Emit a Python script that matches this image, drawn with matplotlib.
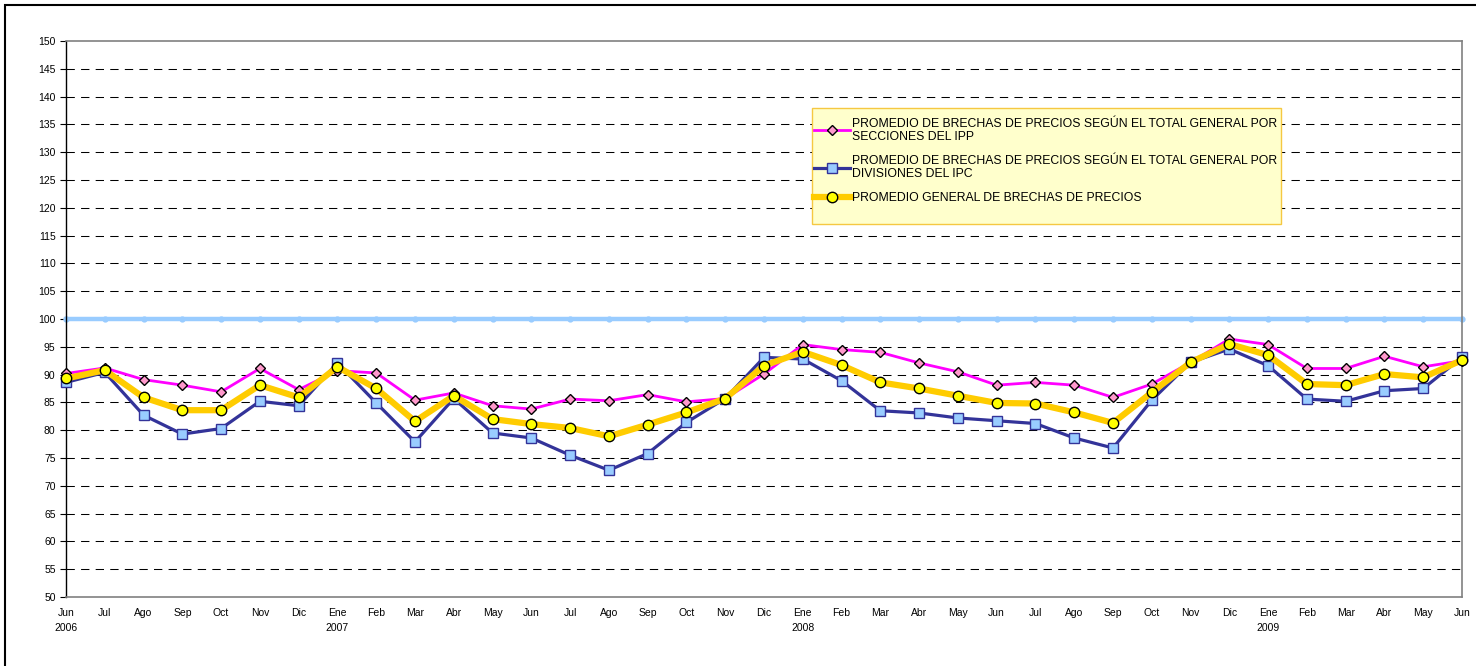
"""
Brechas de precios: IPP, IPC y promedio general, Jun 2006 - Jun 2009.
"""
import matplotlib.pyplot as plt
from matplotlib.patches import Rectangle

plt.rcParams["font.family"] = ["Liberation Sans", "DejaVu Sans"]

meses = [
    "Jun\n2006", "Jul", "Ago", "Sep", "Oct", "Nov", "Dic",
    "Ene\n2007", "Feb", "Mar", "Abr", "May", "Jun", "Jul", "Ago", "Sep", "Oct", "Nov", "Dic",
    "Ene\n2008", "Feb", "Mar", "Abr", "May", "Jun", "Jul", "Ago", "Sep", "Oct", "Nov", "Dic",
    "Ene\n2009", "Feb", "Mar", "Abr", "May", "Jun",
]

ipp = [
    90.2, 91.2, 89.1, 88.1, 86.9, 91.1, 87.3,
    90.7, 90.3, 85.4, 86.7, 84.4, 83.8, 85.6, 85.3, 86.4, 85.1, 85.7, 90.1,
    95.4, 94.5, 94.0, 92.1, 90.5, 88.1, 88.6, 88.1, 85.9, 88.3, 92.2, 96.4,
    95.4, 91.1, 91.1, 93.3, 91.4, 92.5,
]

ipc = [
    88.6, 90.4, 82.7, 79.3, 80.3, 85.2, 84.4,
    92.1, 84.9, 77.9, 85.7, 79.5, 78.6, 75.5, 72.8, 75.8, 81.4, 85.7, 93.1,
    92.8, 88.9, 83.5, 83.1, 82.2, 81.7, 81.2, 78.6, 76.8, 85.4, 92.2, 94.6,
    91.6, 85.6, 85.2, 87.1, 87.5, 93.1,
]

general = [
    89.3, 90.8, 85.9, 83.6, 83.6, 88.1, 85.9,
    91.4, 87.5, 81.6, 86.2, 82.0, 81.1, 80.4, 78.9, 81.0, 83.2, 85.7, 91.6,
    94.1, 91.7, 88.6, 87.5, 86.2, 84.9, 84.8, 83.2, 81.3, 86.8, 92.2, 95.5,
    93.5, 88.3, 88.1, 90.1, 89.5, 92.6,
]

referencia = [100] * len(meses)

etiquetas = [
    "PROMEDIO DE BRECHAS DE PRECIOS SEGÚN EL TOTAL GENERAL POR\nSECCIONES DEL IPP",
    "PROMEDIO DE BRECHAS DE PRECIOS SEGÚN EL TOTAL GENERAL POR\nDIVISIONES DEL IPC",
    "PROMEDIO GENERAL DE BRECHAS DE PRECIOS",
]


def main():
    fig = plt.figure(figsize=(14.76, 6.66), dpi=100)
    ax = fig.add_axes([66 / 1476, 1 - 597 / 666, 1396 / 1476, 556 / 666])

    x = list(range(len(meses)))

    # lineas de rejilla discontinuas
    for y in range(55, 150, 5):
        ax.axhline(y, color="black", lw=0.75, linestyle=(0, (8, 6)), zorder=1)

    ax.plot(x, referencia, color="#99CCFF", lw=3.2, marker="o", markersize=3.5,
            zorder=2, clip_on=False)

    ax.plot(x, ipp, color="#FF00FF", lw=2, marker="D", markersize=5.5,
            markerfacecolor="#FF99CC", markeredgecolor="black", markeredgewidth=1,
            label=etiquetas[0], zorder=3, clip_on=False)
    ax.plot(x, ipc, color="#333399", lw=2.3, marker="s", markersize=7,
            markerfacecolor="#99CCFF", markeredgecolor="#333399", markeredgewidth=1,
            label=etiquetas[1], zorder=4, clip_on=False)
    ax.plot(x, general, color="#FFCC00", lw=4.5, marker="o", markersize=7.5,
            markerfacecolor="#FFFF00", markeredgecolor="black", markeredgewidth=1,
            label=etiquetas[2], zorder=5, clip_on=False)

    ax.set_xlim(0, len(meses) - 1)
    ax.set_ylim(50, 150)
    ax.set_yticks(range(50, 151, 5))
    ax.set_xticks(x)
    ax.set_xticklabels(meses, fontsize=7.5, linespacing=1.6)
    ax.tick_params(axis="x", length=0, pad=8)
    ax.tick_params(axis="y", length=4, width=0.8, pad=3.5, labelsize=7.5)

    for side in ["top", "right", "bottom"]:
        ax.spines[side].set_color("#808080")
        ax.spines[side].set_linewidth(1.2)
    ax.spines["left"].set_color("black")
    ax.spines["left"].set_linewidth(1)

    # caja de la leyenda (estilo Excel, con espacio libre abajo)
    ax.add_patch(Rectangle((0.5344, 0.6709), 0.336, 0.2086, transform=ax.transAxes,
                           facecolor="#FFFFCC", edgecolor="#F5C842", lw=1, zorder=6))
    leg = ax.legend(loc="upper left", bbox_to_anchor=(0.5358, 0.862), fontsize=8.8,
                    frameon=False, handlelength=2.95, handletextpad=0.15,
                    borderpad=0, labelspacing=1.0, borderaxespad=0)
    leg.set_zorder(7)
    for t in leg.get_texts():
        t.set_linespacing(1.12)

    # marco exterior
    fig.patches.append(Rectangle((5 / 1476, -0.1), 1.2, 1.1 - 5 / 666,
                                 transform=fig.transFigure, fill=False,
                                 edgecolor="black", lw=1.5))

    fig.savefig("out.png", dpi=100)
    plt.close(fig)


if __name__ == "__main__":
    main()
